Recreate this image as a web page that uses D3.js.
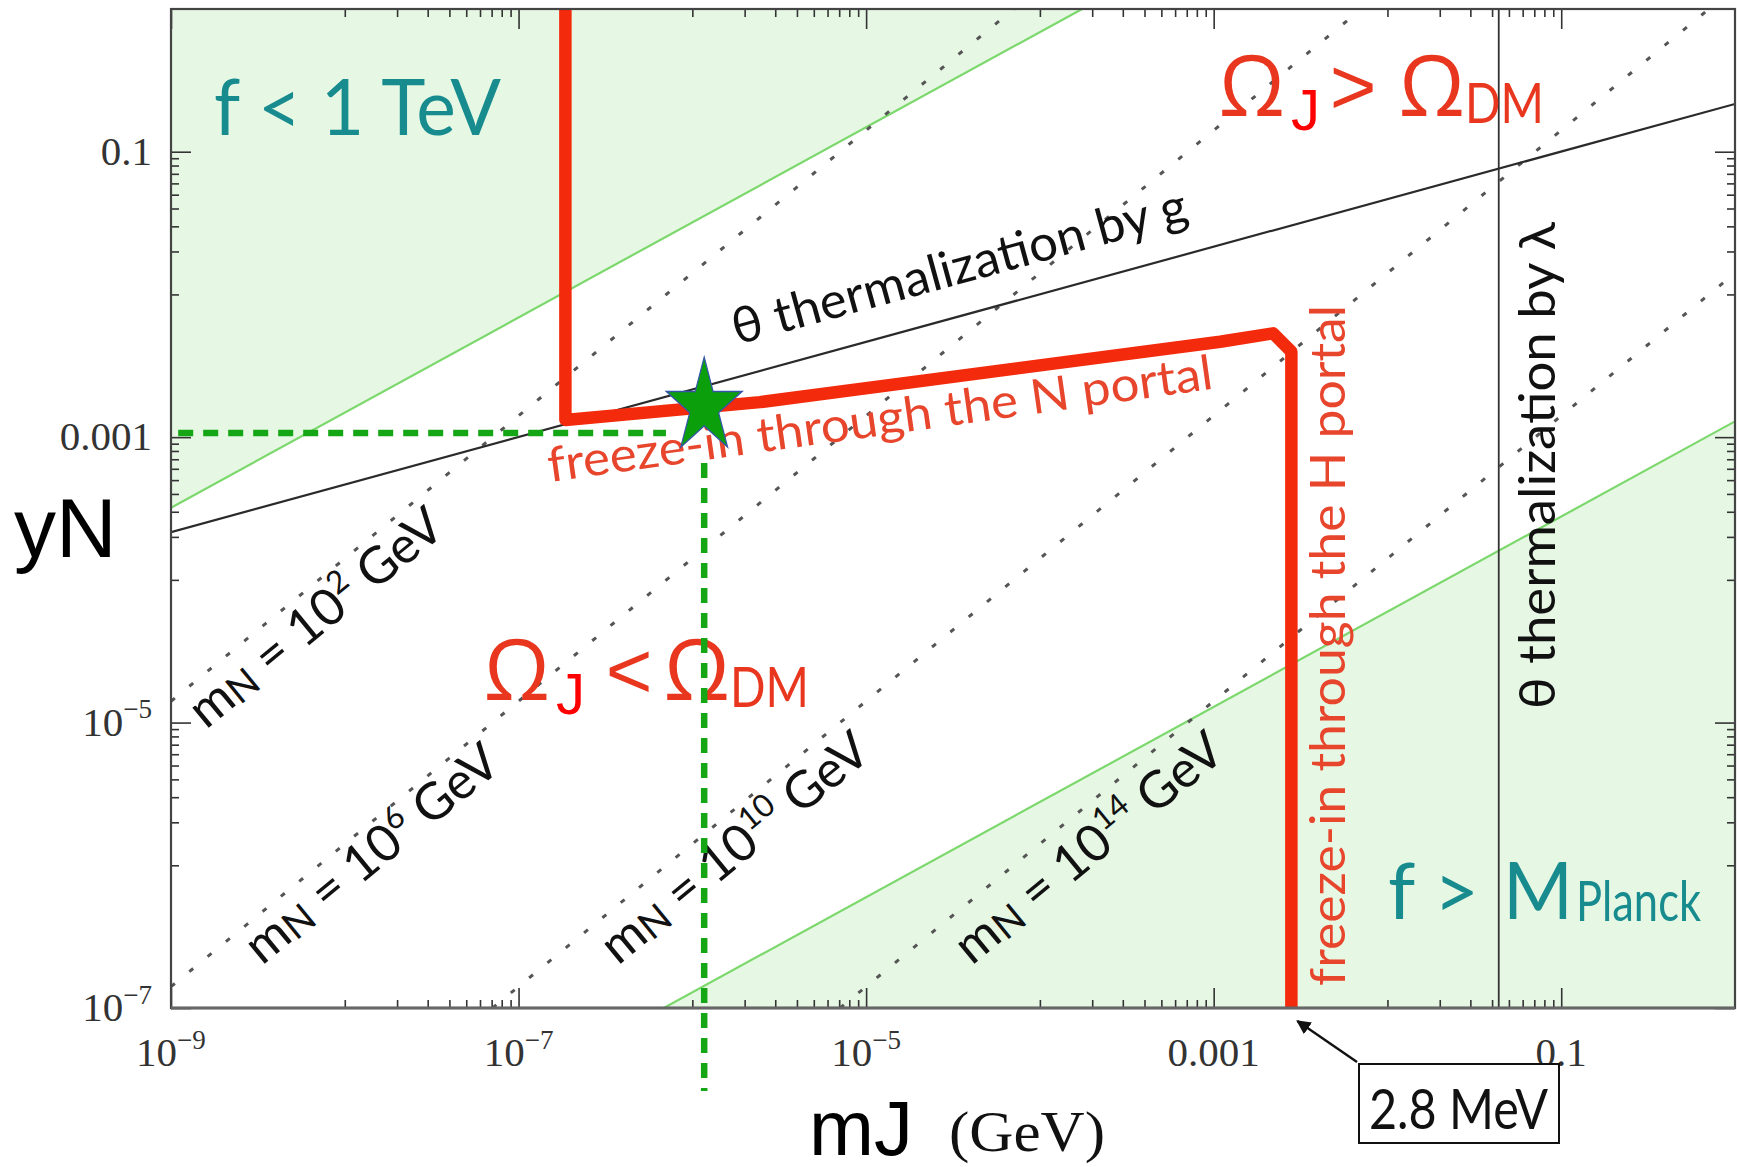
<!DOCTYPE html>
<html>
<head>
<meta charset="utf-8">
<script src="https://cdn.jsdelivr.net/npm/d3@7"></script>
<style>
  html, body { margin: 0; padding: 0; background: #ffffff; }
  svg { display: block; }
</style>
</head>
<body>
<svg id="chart" width="1737" height="1167"></svg>
<script>
// ---- axis ranges: majoron mass mJ (GeV) vs. neutrino Yukawa yN ----
const xDomain = [1e-9, 1];
const yDomain = [1e-7, 1];

// labelled ticks: [mantissa text, exponent text]
const xTickValues = [1e-9, 1e-7, 1e-5, 1e-3, 0.1];
const xTickLabels = [["10", "\u22129"], ["10", "\u22127"], ["10", "\u22125"], ["0.001", ""], ["0.1", ""]];
const yTickValues = [1e-7, 1e-5, 1e-3, 0.1];
const yTickLabels = [["10", "\u22127"], ["10", "\u22125"], ["0.001", ""], ["0.1", ""]];
// decades that carry the 1..9 minor ticks
const xMinorDecades = [1e-8, 1e-6, 1e-4, 1e-2];
const yMinorDecades = [1e-6, 1e-4, 1e-2];

// f = 1 TeV and f = M_Planck boundaries, [mJ, yN]
const fTeVBoundary = [[1e-9, 3.2e-4], [1.75e-4, 1]];
const fPlanckBoundary = [[6.85e-7, 1e-7], [1, 1.29e-3]];

// theta thermalization by g, and by lambda (vertical, mJ in GeV)
const thetaGLine = [[1e-9, 2.16e-4], [1, 0.216]];
const thetaLambdaMJ = 0.0437;

// constant heavy-neutrino mass contours, mN = 10^k GeV
const mNExponents = ["2", "6", "10", "14"];
const mNLines = [
  [[1e-9, 1.41e-5], [7.08e-5, 1]],
  [[1e-9, 1.41e-7], [7.08e-3, 1]],
  [[7.08e-8, 1e-7], [0.708, 1]],
  [[7.08e-6, 1e-7], [1, 1.41e-2]]
];
const mNLabelAnchors = [[1.59e-9, 8.86e-6], [3.34e-9, 1.97e-7], [3.73e-7, 1.97e-7], [4.06e-5, 1.97e-7]];

// relic-abundance contour Omega_J = Omega_DM, [mJ, yN]
const hPortalMJ = 2.8e-3; // 2.8 MeV
const relicBoundary = [
  [1.86e-7, 1], [1.86e-7, 1.32e-3], [2.45e-6, 1.76e-3],
  [1.09e-3, 4.66e-3], [2.2e-3, 5.34e-3], [hPortalMJ, 3.97e-3], [hPortalMJ, 1e-7]
];

// benchmark point and its guide lines
const benchmark = [1.17e-6, 1.63e-3];
const guideYN = 1.07e-3;
const guideStartMJ = 1.1e-9;
const guideEndMJ = 7.05e-7;
const guideTopYN = 6.6e-4;
const guideBottomYN = 2.62e-8;

// ---- layout ----
const P = { left: 171, right: 1735, top: 9, bottom: 1008 };
const svg = d3.select("#chart");
const x = d3.scaleLog().domain(xDomain).range([P.left, P.right]);
const y = d3.scaleLog().domain(yDomain).range([P.bottom, P.top]);
const line = d3.line().x(d => x(d[0])).y(d => y(d[1]));

const SANS = "Lato, 'Open Sans', 'Noto Sans', sans-serif";
const GREEK = "'Open Sans', 'Noto Sans', sans-serif";
const ARIAL = "'Liberation Sans', Arial, sans-serif";
const SERIF = "'Liberation Serif', 'Times New Roman', serif";
const TEAL = "#178b8e";
const RED = "#f42a0c";
const RED_TEXT = "#e8452d";
const OMEGA_RED = "#e8371e";

const defs = svg.append("defs");
defs.append("clipPath").attr("id", "plotClip").append("rect")
  .attr("x", P.left).attr("y", P.top)
  .attr("width", P.right - P.left).attr("height", P.bottom - P.top);
defs.append("marker").attr("id", "arrowHead")
  .attr("viewBox", "0 0 10 10").attr("refX", 9).attr("refY", 5)
  .attr("markerWidth", 6).attr("markerHeight", 6).attr("orient", "auto")
  .attr("markerUnits", "strokeWidth")
  .append("path").attr("d", "M0,0 L10,5 L0,10 Z").attr("fill", "#111");

const plotG = svg.append("g").attr("clip-path", "url(#plotClip)");

// shaded excluded regions
plotG.append("path")
  .datum([...fTeVBoundary, [xDomain[0], yDomain[1]]])
  .attr("d", d => line(d) + "Z").attr("fill", "#e6f8e4");
plotG.append("path")
  .datum([...fPlanckBoundary, [xDomain[1], yDomain[0]]])
  .attr("d", d => line(d) + "Z").attr("fill", "#e6f8e4");

// boundary lines
[fTeVBoundary, fPlanckBoundary].forEach(b => {
  plotG.append("path").datum(b).attr("d", line)
    .attr("fill", "none").attr("stroke", "#7cd86c").attr("stroke-width", 2.2);
});

// mN contours
plotG.selectAll("path.mn").data(mNLines).join("path").attr("class", "mn")
  .attr("d", line).attr("fill", "none")
  .attr("stroke", "#555").attr("stroke-width", 3)
  .attr("stroke-dasharray", "5 18.7");

// theta thermalization lines
plotG.append("path").datum(thetaGLine).attr("d", line)
  .attr("fill", "none").attr("stroke", "#2a2a2a").attr("stroke-width", 2.2);
plotG.append("line")
  .attr("x1", x(thetaLambdaMJ)).attr("x2", x(thetaLambdaMJ))
  .attr("y1", y(yDomain[0])).attr("y2", y(yDomain[1]))
  .attr("stroke", "#333").attr("stroke-width", 1.8);

// relic contour
plotG.append("path").datum(relicBoundary).attr("d", line)
  .attr("fill", "none").attr("stroke", RED).attr("stroke-width", 12.5)
  .attr("stroke-linejoin", "round");

// ---- frame and ticks ----
const minorOf = decs => decs.flatMap(d => d3.range(1, 10).map(k => +(k * d).toPrecision(3)));
const axisG = svg.append("g").attr("class", "axes");
function styleAxis(g) {
  g.selectAll(".domain").remove();
  g.selectAll(".tick line").attr("stroke", "#333").attr("stroke-width", 1.6);
  g.selectAll(".tick text").remove();
}
[[d3.axisBottom, x, `translate(0,${P.bottom})`], [d3.axisTop, x, `translate(0,${P.top})`],
 [d3.axisLeft, y, `translate(${P.left},0)`], [d3.axisRight, y, `translate(${P.right},0)`]]
  .forEach(([maker, sc, tr]) => {
    const majors = sc === x ? xTickValues : yTickValues;
    const minors = minorOf(sc === x ? xMinorDecades : yMinorDecades);
    axisG.append("g").attr("transform", tr)
      .call(maker(sc).tickValues(majors).tickSize(-20).tickSizeOuter(0).tickFormat(""))
      .call(styleAxis);
    axisG.append("g").attr("transform", tr)
      .call(maker(sc).tickValues(minors).tickSize(-8).tickSizeOuter(0).tickFormat(""))
      .call(styleAxis);
  });
axisG.append("rect")
  .attr("x", P.left).attr("y", P.top)
  .attr("width", P.right - P.left).attr("height", P.bottom - P.top)
  .attr("fill", "none").attr("stroke", "#444").attr("stroke-width", 2.2);
axisG.append("line").attr("x1", P.left).attr("x2", P.right)
  .attr("y1", P.bottom).attr("y2", P.bottom)
  .attr("stroke", "#666").attr("stroke-width", 3);

// tick labels
function powerLabel(t, parts, fs) {
  t.append("tspan").text(parts[0]);
  if (parts[1]) {
    t.append("tspan").attr("font-size", fs * 0.66).attr("dy", -fs * 0.42).text(parts[1]);
  }
}
xTickValues.forEach((v, i) => {
  const t = svg.append("text")
    .attr("x", x(v)).attr("y", P.bottom + 58)
    .attr("text-anchor", "middle").attr("font-family", SERIF)
    .attr("font-size", 41).attr("fill", "#333");
  powerLabel(t, xTickLabels[i], 41);
});
yTickValues.forEach((v, i) => {
  const t = svg.append("text")
    .attr("x", P.left - 19).attr("y", y(v) + 13)
    .attr("text-anchor", "end").attr("font-family", SERIF)
    .attr("font-size", 41).attr("fill", "#333");
  powerLabel(t, yTickLabels[i], 41);
});

// axis titles
svg.append("text").attr("x", 14).attr("y", 557)
  .attr("font-family", ARIAL).attr("font-size", 84).attr("fill", "#000").text("yN");
svg.append("text").attr("x", 809).attr("y", 1155)
  .attr("font-family", ARIAL).attr("font-size", 78).attr("fill", "#000").text("mJ");
svg.append("text").attr("x", 949).attr("y", 1151)
  .attr("font-family", SERIF).attr("font-size", 56).attr("fill", "#111")
  .attr("textLength", 156).attr("lengthAdjust", "spacingAndGlyphs").text("(GeV)");

// ---- region annotations ----
svg.append("text").attr("x", 214).attr("y", 135)
  .attr("font-family", SANS).attr("font-size", 78).attr("fill", TEAL)
  .attr("textLength", 287).attr("lengthAdjust", "spacingAndGlyphs").text("f < 1 TeV");

svg.append("text").attr("x", 1388).attr("y", 919)
  .attr("font-family", SANS).attr("font-size", 78).attr("fill", TEAL).text("f >");
svg.append("text").attr("x", 1503).attr("y", 919)
  .attr("font-family", SANS).attr("font-size", 80).attr("fill", TEAL)
  .attr("textLength", 70).attr("lengthAdjust", "spacingAndGlyphs").text("M");
svg.append("text").attr("x", 1576).attr("y", 921)
  .attr("font-family", SANS).attr("font-size", 57).attr("fill", TEAL)
  .attr("textLength", 125).attr("lengthAdjust", "spacingAndGlyphs").text("Planck");

function omegaRelation(x0, base, sym, symOffset) {
  const g = svg.append("g");
  g.append("text").attr("x", x0).attr("y", base)
    .attr("font-family", GREEK).attr("font-size", 84).attr("fill", OMEGA_RED).text("\u03A9");
  g.append("text").attr("x", x0 + 72).attr("y", base + 14)
    .attr("font-family", ARIAL).attr("font-size", 58).attr("fill", "#ff0000").text("J");
  g.append("text").attr("x", x0 + symOffset).attr("y", base - 2)
    .attr("text-anchor", "middle")
    .attr("font-family", ARIAL).attr("font-size", 80).attr("fill", OMEGA_RED).text(sym);
  g.append("text").attr("x", x0 + 180).attr("y", base)
    .attr("font-family", GREEK).attr("font-size", 84).attr("fill", OMEGA_RED).text("\u03A9");
  g.append("text").attr("x", x0 + 246).attr("y", base + 7)
    .attr("font-family", SANS).attr("font-size", 56).attr("fill", OMEGA_RED)
    .attr("textLength", 79).attr("lengthAdjust", "spacingAndGlyphs").text("DM");
}
omegaRelation(1219, 116, ">", 134);
omegaRelation(484, 700, "<", 145);

// rotated line labels
function rotatedText(px, py, angle, str, fs, len, fill) {
  svg.append("text")
    .attr("transform", `translate(${px},${py}) rotate(${angle})`)
    .attr("font-family", SANS).attr("font-size", fs).attr("fill", fill)
    .attr("textLength", len).attr("lengthAdjust", "spacingAndGlyphs")
    .text(str);
}
rotatedText(737, 345, -15.3, "\u03B8 thermalization by g", 50, 470, "#111");
rotatedText(1555, 709, -90, "\u03B8 thermalization by \u03BB", 50, 487, "#111");
rotatedText(550, 482, -8, "freeze-in through the N portal", 48, 671, RED_TEXT);
rotatedText(1345, 986, -90, "freeze-in through the H portal", 48, 681, RED_TEXT);

// mN contour labels, rotated parallel to the unit-slope contours
const mnAngle = -Math.atan2(y(1e-6) - y(1e-5), x(1e-5) - x(1e-6)) * 180 / Math.PI;
mNLabelAnchors.forEach((a, i) => {
  const fs = 51;
  const t = svg.append("text")
    .attr("transform", `translate(${x(a[0])},${y(a[1])}) rotate(${mnAngle})`)
    .attr("font-family", SANS).attr("font-size", fs).attr("fill", "#111");
  t.append("tspan").text("m");
  t.append("tspan").attr("font-size", fs * 0.76).attr("dy", fs * 0.05).text("N");
  t.append("tspan").attr("dy", -fs * 0.05).text(" = 10");
  t.append("tspan").attr("font-size", fs * 0.62).attr("dy", -fs * 0.4).text(mNExponents[i]);
  t.append("tspan").attr("dy", fs * 0.4).text(" GeV");
});

// 2.8 MeV callout
const hx = x(hPortalMJ);
svg.append("rect").attr("x", 1359).attr("y", 1064).attr("width", 200).attr("height", 79)
  .attr("fill", "#fff").attr("stroke", "#111").attr("stroke-width", 2);
svg.append("text").attr("x", 1369).attr("y", 1129)
  .attr("font-family", SANS).attr("font-size", 56).attr("fill", "#111")
  .attr("textLength", 179).attr("lengthAdjust", "spacingAndGlyphs").text("2.8 MeV");
svg.append("line").attr("x1", 1357).attr("y1", 1062).attr("x2", hx + 6).attr("y2", P.bottom + 13)
  .attr("stroke", "#111").attr("stroke-width", 2.4).attr("marker-end", "url(#arrowHead)");

// ---- benchmark guides and star ----
const GUIDE = "#14a614";
svg.append("line")
  .attr("x1", x(guideStartMJ)).attr("x2", x(guideEndMJ))
  .attr("y1", y(guideYN)).attr("y2", y(guideYN))
  .attr("stroke", GUIDE).attr("stroke-width", 6.5).attr("stroke-dasharray", "15 10");
svg.append("line")
  .attr("x1", x(benchmark[0])).attr("x2", x(benchmark[0]))
  .attr("y1", y(guideTopYN)).attr("y2", y(guideBottomYN))
  .attr("stroke", GUIDE).attr("stroke-width", 6.5).attr("stroke-dasharray", "15 10");

const star = d3.symbol().type(d3.symbolStar).size(1780);
svg.append("path")
  .attr("d", star())
  .attr("transform", `translate(${x(benchmark[0])},${y(benchmark[1])}) scale(1,1.25)`)
  .attr("fill", "#0b9f0b").attr("stroke", "#3556a8").attr("stroke-width", 1.2);
</script>
</body>
</html>
